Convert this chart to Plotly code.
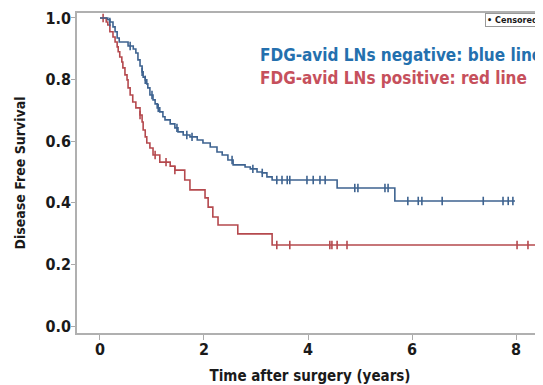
import numpy as np
import plotly.graph_objects as go

# ---- data ----
neg_time = [0, 0.15, 0.19, 0.25, 0.29, 0.33, 0.37, 0.54, 0.64, 0.69, 0.73, 0.77, 0.81, 0.83, 0.87, 0.90,
            0.92, 0.96, 1.02, 1.06, 1.10, 1.15, 1.21, 1.25, 1.35, 1.44, 1.50, 1.60, 1.73, 1.87, 1.98,
            2.12, 2.25, 2.35, 2.46, 2.56, 2.79, 2.89, 3.02, 3.12, 3.21, 3.31, 4.56, 5.67, 7.98]
neg_surv = [1.0, 0.994, 0.987, 0.971, 0.955, 0.935, 0.922, 0.909, 0.899, 0.886, 0.864, 0.844, 0.825, 0.808,
            0.799, 0.786, 0.773, 0.750, 0.734, 0.721, 0.708, 0.695, 0.679, 0.669, 0.656, 0.643, 0.630,
            0.620, 0.614, 0.604, 0.594, 0.581, 0.565, 0.555, 0.539, 0.523, 0.516, 0.510, 0.500, 0.497,
            0.484, 0.474, 0.448, 0.406, 0.406]
neg_censored = [0.19, 0.58, 0.81, 0.87, 1.00, 1.12, 1.48, 1.67, 1.77, 2.54, 2.94, 3.12, 3.40, 3.50, 3.60,
                3.65, 3.98, 4.10, 4.23, 4.33, 4.90, 4.96, 5.48, 5.54, 5.92, 6.12, 6.19, 6.58, 7.37, 7.75,
                7.85, 7.94]

pos_time = [0, 0.12, 0.15, 0.19, 0.25, 0.29, 0.33, 0.35, 0.38, 0.42, 0.44, 0.48, 0.52, 0.54, 0.58, 0.63,
            0.69, 0.77, 0.81, 0.83, 0.87, 0.90, 0.96, 1.02, 1.15, 1.35, 1.44, 1.63, 1.73, 2.02, 2.08,
            2.17, 2.27, 2.65, 3.31, 8.70]
pos_surv = [1.0, 0.987, 0.977, 0.955, 0.938, 0.922, 0.906, 0.890, 0.873, 0.857, 0.838, 0.815, 0.799, 0.773,
            0.750, 0.727, 0.708, 0.685, 0.662, 0.636, 0.614, 0.594, 0.578, 0.555, 0.532, 0.519, 0.506,
            0.474, 0.442, 0.416, 0.386, 0.354, 0.328, 0.299, 0.263, 0.263]
pos_censored = [0.06, 0.77, 1.06, 1.27, 1.44, 3.40, 3.65, 4.42, 4.46, 4.56, 4.75, 8.02, 8.23]

x_ticks = [0, 2, 4, 6, 8]
y_ticks = [0.0, 0.2, 0.4, 0.6, 0.8, 1.0]
y_tick_labels = ["0.0", "0.2", "0.4", "0.6", "0.8", "1.0"]

BLUE_LINE = "#3e6390"
RED_LINE = "#b5494e"
BLUE_TXT = "#2470ae"
RED_TXT = "#c6505c"
FONT = "DejaVu Sans Condensed, Liberation Sans Narrow, Arial Narrow, sans-serif"

# page body has an 8px margin: figure drawn at (8, 8) in the window
OFF = 8
FW, FH = 543 - OFF, 385 - OFF
# plot-area geometry in figure pixels
L, T, W, H = 77 - OFF, 13 - OFF, 466, 320


def step_at(times, surv, t):
    idx = np.searchsorted(np.asarray(times), np.asarray(t), side="right") - 1
    return np.asarray(surv)[idx]


def px(xw):  # window x -> paper fraction
    return (xw - OFF - L) / W


def py(yw):  # window y -> paper fraction
    return 1 - (yw - OFF - T) / H


fig = go.Figure()
for tm, sv, cens, col in [(pos_time, pos_surv, pos_censored, RED_LINE),
                          (neg_time, neg_surv, neg_censored, BLUE_LINE)]:
    fig.add_trace(go.Scatter(x=tm, y=sv, mode="lines", line=dict(color=col, width=1.6, shape="hv"),
                             showlegend=False, hoverinfo="skip"))
    fig.add_trace(go.Scatter(x=cens, y=step_at(tm, sv, cens), mode="markers",
                             marker=dict(symbol="line-ns", size=6, line=dict(color=col, width=1.6)),
                             showlegend=False, hoverinfo="skip"))

fig.update_layout(
    width=FW, height=FH,
    margin=dict(l=L, r=FW - L - W, t=T, b=FH - T - H, autoexpand=False),
    paper_bgcolor="white", plot_bgcolor="white",
    font=dict(family=FONT, color="#1a1a1a"),
    xaxis=dict(range=[-0.442, 8.519], tickvals=x_ticks, ticks="outside", ticklen=5, tickwidth=1,
               tickcolor="#aaaaaa", showline=True, linecolor="#b0b0b0", linewidth=1.5, mirror=True,
               showgrid=False, zeroline=False, automargin=False, ticklabelstandoff=-4,
               tickfont=dict(family=FONT, size=16, color="#1a1a1a", weight="bold"),
               title=dict(text="Time after surgery (years)", standoff=14,
                          font=dict(family=FONT, size=15, color="#1a1a1a", weight="bold"))),
    yaxis=dict(range=[-0.0227, 1.016], tickvals=y_ticks, ticktext=y_tick_labels, ticks="outside",
               ticklen=4, tickwidth=1, tickcolor="#aaaaaa", showline=True, linecolor="#b0b0b0",
               linewidth=1.5, showgrid=False, zeroline=False, automargin=False, ticklabelstandoff=-3,
               tickfont=dict(family=FONT, size=16, color="#1a1a1a", weight="bold"),
               title=dict(text="Disease Free Survival", standoff=17,
                          font=dict(family=FONT, size=14, color="#1a1a1a", weight="bold"))),
)

fig.add_annotation(xref="paper", yref="paper", x=px(258), y=py(55),
                   xanchor="left", yanchor="middle", showarrow=False,
                   text="FDG-avid LNs negative: blue line",
                   font=dict(family=FONT, size=17, color=BLUE_TXT, weight="bold"))
fig.add_annotation(xref="paper", yref="paper", x=px(258), y=py(78),
                   xanchor="left", yanchor="middle", showarrow=False,
                   text="FDG-avid LNs positive: red line",
                   font=dict(family=FONT, size=17, color=RED_TXT, weight="bold"))
fig.add_annotation(xref="paper", yref="paper", x=px(485), y=py(20),
                   xanchor="left", yanchor="middle", showarrow=False,
                   text="• Censored", bordercolor="#999999", borderwidth=1, borderpad=1,
                   bgcolor="white",
                   font=dict(family=FONT, size=9, color="#1a1a1a", weight="bold"))

fig.write_html("out.html")
